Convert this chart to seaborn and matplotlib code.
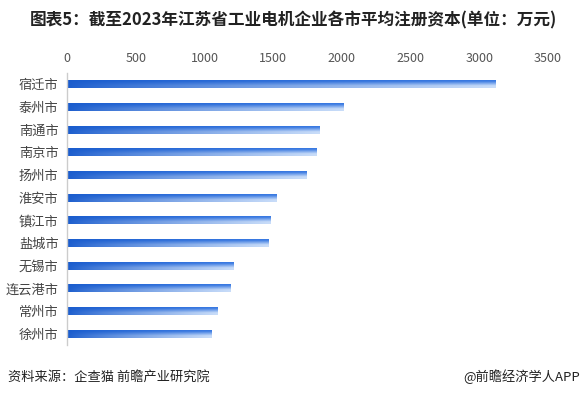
import numpy as np
import pandas as pd
import matplotlib
matplotlib.use("Agg")
import matplotlib.pyplot as plt
import seaborn as sns
from matplotlib.colors import to_rgb

# Data (unit: 万元)
cities = ["宿迁市", "泰州市", "南通市", "南京市", "扬州市", "淮安市",
          "镇江市", "盐城市", "无锡市", "连云港市", "常州市", "徐州市"]
capital = [3115, 2010, 1840, 1812, 1745, 1526, 1482, 1468, 1215, 1191, 1092, 1048]
x_ticks = [0, 500, 1000, 1500, 2000, 2500, 3000, 3500]

title = "图表5：截至2023年江苏省工业电机企业各市平均注册资本(单位：万元)"
source = "资料来源：企查猫 前瞻产业研究院"
credit = "@前瞻经济学人APP"

sns.set_theme(style="white")
plt.rcParams['font.family'] = ['Noto Sans CJK SC', 'DejaVu Sans']

df = pd.DataFrame({"city": cities, "capital": capital})

fig = plt.figure(figsize=(5.86, 3.99), dpi=100)
ax = fig.add_axes([67 / 586, 1 - 345 / 399, (548 - 67) / 586, (345 - 73) / 399])

sns.barplot(data=df, x="capital", y="city", orient="h", color="#3a78e0",
            width=0.35, ax=ax)

# gradient image: dark blue left -> light blue right, lighter toward bottom
nx, ny = 256, 32
left = np.array(to_rgb("#1a5ccd"))
right_top = np.array(to_rgb("#3a7ae2"))
right_bot = np.array(to_rgb("#c9ddf9"))
tx = np.linspace(0, 1, nx)[None, :, None]
ty = np.linspace(0, 1, ny)[:, None, None]
ty = np.clip((ty - 0.12) / 0.6, 0, 1)
right = right_top * (1 - ty) + right_bot * ty
grad = left * (1 - tx ** 0.8) + right * tx ** 0.8

for patch in ax.patches:
    x0, y0 = patch.get_x(), patch.get_y()
    w, h = patch.get_width(), patch.get_height()
    patch.set_facecolor("none")
    patch.set_edgecolor("none")
    im = ax.imshow(grad, extent=[x0, x0 + w, y0 + h, y0], aspect="auto",
                   interpolation="bilinear", zorder=2)
    im.set_clip_path(patch)

ax.set_xlim(0, 3500)
ax.set_ylim(11.5, -0.5)
ax.set_xticks(x_ticks)
ax.xaxis.tick_top()
ax.tick_params(axis="x", length=0, pad=6, labelsize=9, labelcolor="#555555")
ax.tick_params(axis="y", length=0, pad=6, labelsize=9.5, labelcolor="#444444")
ax.set_xlabel("")
ax.set_ylabel("")
for side in ["top", "right", "bottom"]:
    ax.spines[side].set_visible(False)
ax.spines["left"].set_color("#cccccc")
ax.spines["left"].set_linewidth(1)

fig.text(0.5, 1 - 20 / 399, title, ha="center", va="center",
         fontsize=12, fontweight="bold", color="#222222")
fig.text(8 / 586, 1 - 377 / 399, source, ha="left", va="center",
         fontsize=9.5, color="#222222")
fig.text(580 / 586, 1 - 377 / 399, credit, ha="right", va="center",
         fontsize=9.5, color="#222222")

fig.savefig("out.png", dpi=100)
